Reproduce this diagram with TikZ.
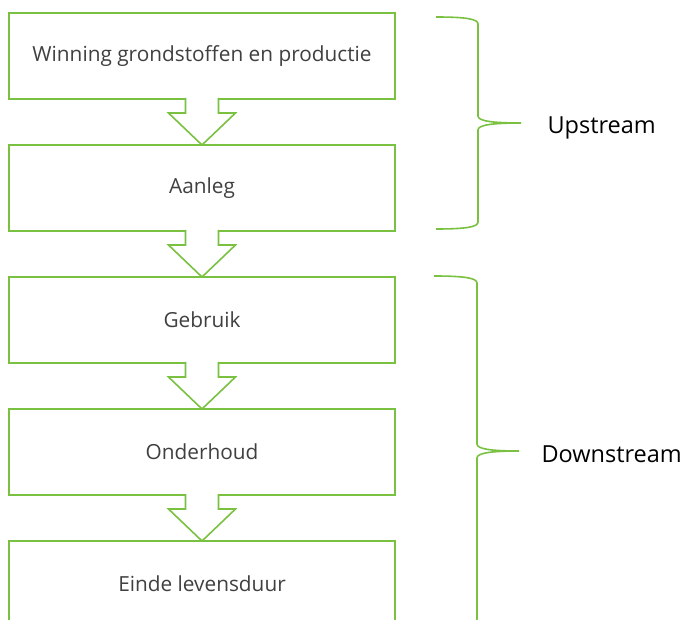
\documentclass[tikz,border=0pt]{standalone}
\usepackage{fontspec}
\setmainfont{Open Sans}
\usetikzlibrary{positioning,calc}

\definecolor{leaf}{RGB}{122,193,66}

\tikzset{
  stage/.style={draw=leaf, line width=1.8pt, fill=white, minimum width=386pt,
    minimum height=86pt, inner sep=0pt, outer sep=0pt, text=black!75,
    font=\fontsize{20.8}{25}\selectfont},
  flow/.style={draw=leaf, line width=1.6pt, fill=white, line join=miter},
  brace/.style={draw=leaf, line width=1.6pt},
  phase/.style={anchor=west, font=\fontsize{23.5}{28}\selectfont}
}

% hollow block arrow hanging from the bottom of #1 down to the top of #2
\newcommand{\flowarrow}[2]{%
  \filldraw[flow] ($(#1.south)+(-16.5,-1)$) |- ($(#1.south)+(-33.5,14)$)
    -- (#2.north) -- ($(#1.south)+(33.5,14)$) -| ($(#1.south)+(16.5,-1)$);}

\begin{document}
\begin{tikzpicture}[x=1pt, y=-1pt]
\useasboundingbox (0,0) rectangle (683,620);

\node[stage] (win) at (202,56) {Winning grondstoffen en productie};
\node[stage, below=46pt of win] (aanleg) {Aanleg};
\node[stage, below=46pt of aanleg] (gebruik) {Gebruik};
\node[stage, below=46pt of gebruik] (onderhoud) {Onderhoud};
\node[stage, below=46pt of onderhoud] (einde) {Einde levensduur};

\flowarrow{win}{aanleg}
\flowarrow{aanleg}{gebruik}
\flowarrow{gebruik}{onderhoud}
\flowarrow{onderhoud}{einde}

% braces
\draw[brace] (436,17) .. controls (466,17) and (478,19) .. (478,24)
  -- (478,116) .. controls (478,121) and (492,123) .. (521,123) coordinate (up)
  .. controls (492,123) and (478,125) .. (478,130)
  -- (478,222) .. controls (478,227) and (466,229) .. (436,229);
\draw[brace] (434,276) .. controls (464,276) and (477,278) .. (477,283)
  -- (477,444) .. controls (477,449) and (491,451) .. (519,451) coordinate (down)
  .. controls (491,451) and (477,453) .. (477,458)
  -- (477,619) .. controls (477,624) and (464,626) .. (434,626);

\node[phase] (upstream) at ($(up)+(23,5)$) {Upstream};
\node[phase] (downstream) at ($(down)+(19,3)$) {Downstream};
\end{tikzpicture}
\end{document}
